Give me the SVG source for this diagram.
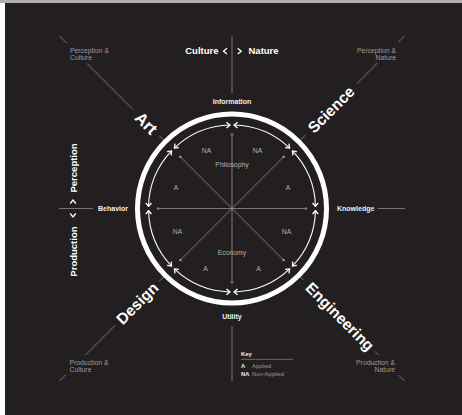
<svg xmlns="http://www.w3.org/2000/svg" width="462" height="415" viewBox="0 0 462 415">
<style>
.big{font-family:"Liberation Sans",Arial,sans-serif;font-weight:bold;font-size:15.5px;fill:#fff}
.mid{font-family:"Liberation Sans",Arial,sans-serif;font-weight:bold;font-size:9.5px;fill:#fff}
.ax{font-family:"Liberation Sans",Arial,sans-serif;font-weight:bold;font-size:7px;fill:#f0f0f0}
.cn{font-family:"Liberation Sans",Arial,sans-serif;font-size:6.8px;fill:#9a9a9a}
.in{font-family:"Liberation Sans",Arial,sans-serif;font-size:6.8px;fill:#b0b0b0}
.kb{font-family:"Liberation Sans",Arial,sans-serif;font-weight:bold;font-size:5.8px;fill:#f0f0f0}
.kr{font-family:"Liberation Sans",Arial,sans-serif;font-size:5.8px;fill:#9a9a9a}
.gl{stroke:#8a8a8a;stroke-width:0.8;fill:none}
.arc{stroke:#fff;stroke-width:1.1;fill:none;marker-start:url(#ch);marker-end:url(#ch)}
.sp{stroke:#a0a0a0;stroke-width:0.7;fill:none}
.chev{stroke:#fff;stroke-width:1.3;fill:none}
</style>
<defs>
<marker id="ch" viewBox="-5 -4 6 8" markerWidth="6" markerHeight="8" refX="0" refY="0" orient="auto-start-reverse" markerUnits="userSpaceOnUse">
<path d="M-3.5,-2.8 L0,0 L-3.5,2.8" stroke="#fff" stroke-width="1.3" fill="none"/>
</marker>
<marker id="sa" viewBox="-3 -2 4 4" markerWidth="4" markerHeight="4" refX="0" refY="0" orient="auto-start-reverse" markerUnits="userSpaceOnUse">
<path d="M-2,-1.6 L0,0 L-2,1.6" stroke="#a0a0a0" stroke-width="0.7" fill="none"/>
</marker>
</defs>
<rect x="0" y="0" width="462" height="415" fill="#ffffff"/>
<rect x="0" y="0" width="462" height="3" fill="#b0b0b0"/>
<rect x="5" y="3" width="457" height="412" fill="#231f20"/>

<g id="connectors">
<line class="gl" x1="232" y1="36" x2="232" y2="93"/>
<line class="gl" x1="232" y1="326" x2="232" y2="381"/>
<line class="gl" x1="59" y1="208.5" x2="93" y2="208.5"/>
<line class="gl" x1="378" y1="208.5" x2="405" y2="208.5"/>
<line class="gl" x1="163.4" y1="139.9" x2="159.2" y2="135.7"/>
<line class="gl" x1="133" y1="109.5" x2="87" y2="63.5"/>
<line class="gl" x1="66.5" y1="43" x2="59.5" y2="36"/>
<line class="gl" x1="300.6" y1="139.9" x2="305.5" y2="135"/>
<line class="gl" x1="356.5" y1="84" x2="377.7" y2="62.8"/>
<line class="gl" x1="398.2" y1="42.3" x2="404.5" y2="36"/>
<line class="gl" x1="163.4" y1="277.1" x2="159.2" y2="281.3"/>
<line class="gl" x1="115.3" y1="325.2" x2="85.6" y2="354.9"/>
<line class="gl" x1="65.8" y1="374.7" x2="59.5" y2="381"/>
<line class="gl" x1="300.6" y1="277.1" x2="303.4" y2="279.9"/>
<line class="gl" x1="374.8" y1="351.3" x2="378.4" y2="354.9"/>
<line class="gl" x1="398.9" y1="375.4" x2="404.5" y2="381"/>
<polyline class="chev" points="227,48.3 223.5,51.2 227,54"/>
<polyline class="chev" points="237.7,48.3 241.2,51.2 237.7,54"/>
<polyline class="chev" points="70.2,203.5 73,200 75.8,203.5"/>
<polyline class="chev" points="70.2,213.5 73,217 75.8,213.5"/>
<path class="arc" d="M315.475,210.540 A83.5,83.5 0 0 1 292.468,266.083"/>
<path class="arc" d="M289.583,268.968 A83.5,83.5 0 0 1 234.040,291.975"/>
<path class="arc" d="M229.960,291.975 A83.5,83.5 0 0 1 174.417,268.968"/>
<path class="arc" d="M171.532,266.083 A83.5,83.5 0 0 1 148.525,210.540"/>
<path class="arc" d="M148.525,206.460 A83.5,83.5 0 0 1 171.532,150.917"/>
<path class="arc" d="M174.417,148.032 A83.5,83.5 0 0 1 229.960,125.025"/>
<path class="arc" d="M234.040,125.025 A83.5,83.5 0 0 1 289.583,148.032"/>
<path class="arc" d="M292.468,150.917 A83.5,83.5 0 0 1 315.475,206.460"/>
<line class="sp" x1="157" y1="208.5" x2="307" y2="208.5" marker-start="url(#sa)" marker-end="url(#sa)"/>
<line class="sp" x1="232" y1="133.5" x2="232" y2="283.5" marker-start="url(#sa)" marker-end="url(#sa)"/>
<line class="sp" x1="180.4" y1="156.9" x2="283.6" y2="260.1"/>
<line class="sp" x1="283.6" y1="156.9" x2="180.4" y2="260.1"/>
<g fill="#a0a0a0">
<circle cx="180.4" cy="156.9" r="1.2"/>
<circle cx="283.6" cy="156.9" r="1.2"/>
<circle cx="180.4" cy="260.1" r="1.2"/>
<circle cx="283.6" cy="260.1" r="1.2"/>
</g>
<line x1="241" y1="359.3" x2="293" y2="359.3" stroke="#9a9a9a" stroke-width="0.6"/>
</g>

<g id="ring">
<circle cx="232" cy="208.5" r="94.5" fill="none" stroke="#fff" stroke-width="5"/>
</g>

<g id="art"><text class="big" style="font-size:16.5px" transform="translate(146.4,122.9) rotate(45)" text-anchor="middle" dominant-baseline="central">Art</text></g>
<g id="science"><text class="big" transform="translate(331,109.5) rotate(-45)" text-anchor="middle" dominant-baseline="central">Science</text></g>
<g id="design"><text class="big" transform="translate(137.2,303.3) rotate(-45)" text-anchor="middle" dominant-baseline="central">Design</text></g>
<g id="engineering"><text class="big" transform="translate(340,316.5) rotate(45)" text-anchor="middle" dominant-baseline="central">Engineering</text></g>

<g id="culture"><text class="mid" x="218.5" y="54" text-anchor="end">Culture</text></g>
<g id="nature"><text class="mid" x="248.5" y="54">Nature</text></g>
<g id="perception"><text class="mid" transform="translate(77,192.5) rotate(-90)">Perception</text></g>
<g id="production"><text class="mid" transform="translate(77,226.5) rotate(-90)" text-anchor="end">Production</text></g>

<g id="information"><text class="ax" x="232" y="103.5" text-anchor="middle">Information</text></g>
<g id="utility"><text class="ax" x="232" y="318.5" text-anchor="middle">Utility</text></g>
<g id="behavior"><text class="ax" x="128" y="211.2" text-anchor="end">Behavior</text></g>
<g id="knowledge"><text class="ax" x="337" y="211.2">Knowledge</text></g>

<g id="perception-culture"><text class="cn" x="70" y="52.5">Perception &amp;<tspan x="70" y="59.5">Culture</tspan></text></g>
<g id="perception-nature"><text class="cn" x="396" y="52.5" text-anchor="end">Perception &amp;<tspan x="396" y="59.5">Nature</tspan></text></g>
<g id="production-culture"><text class="cn" x="69.5" y="364.5">Production &amp;<tspan x="69.5" y="371.5">Culture</tspan></text></g>
<g id="production-nature"><text class="cn" x="395" y="365" text-anchor="end">Production &amp;<tspan x="395" y="372">Nature</tspan></text></g>

<g id="inner-labels">
<text class="in" x="206.5" y="152.5" text-anchor="middle">NA</text>
<text class="in" x="257.5" y="152.5" text-anchor="middle">NA</text>
<text class="in" x="232" y="166.5" text-anchor="middle">Philosophy</text>
<text class="in" x="176" y="190" text-anchor="middle">A</text>
<text class="in" x="288" y="190" text-anchor="middle">A</text>
<text class="in" x="177.5" y="233.5" text-anchor="middle">NA</text>
<text class="in" x="286.5" y="233.5" text-anchor="middle">NA</text>
<text class="in" x="232" y="254.5" text-anchor="middle">Economy</text>
<text class="in" x="205.5" y="270.5" text-anchor="middle">A</text>
<text class="in" x="258.5" y="270.5" text-anchor="middle">A</text>
</g>

<g id="key">
<text class="kb" x="241" y="355.5">Key</text>
<text class="kb" x="241" y="368">A</text>
<text class="kr" x="252" y="368">Applied</text>
<text class="kb" x="241" y="375.7">NA</text>
<text class="kr" x="252" y="375.7">Non-Applied</text>
</g>
</svg>
